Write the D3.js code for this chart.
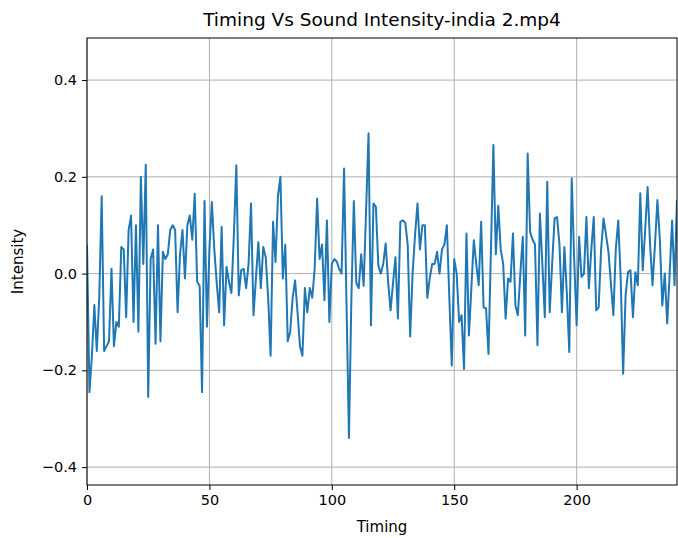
<!DOCTYPE html>
<html><head><meta charset="utf-8">
<script src="https://cdn.jsdelivr.net/npm/d3@7"></script>
<style>body{margin:0;background:#fff}svg{display:block;font-family:"DejaVu Sans",sans-serif}</style>
</head><body><svg id="c" width="678" height="538"></svg>
<script>
const title = "Timing Vs Sound Intensity-india 2.mp4";
const xLabel = "Timing";
const yLabel = "Intensity";
const xTicks = [0, 50, 100, 150, 200];
const yTicks = [-0.4, -0.2, 0.0, 0.2, 0.4];
const intensity = [
0.06,-0.245,-0.17,-0.065,-0.16,-0.05,0.16,-0.16,-0.15,-0.14,
0.01,-0.15,-0.1,-0.11,0.055,0.05,-0.09,0.09,0.12,-0.1,
0.1,-0.12,0.2,0.02,0.225,-0.255,0.03,0.05,-0.145,0.1,
-0.14,0.045,0.03,0.04,0.09,0.1,0.09,-0.08,0.04,0.09,
-0.01,0.1,0.12,0.07,0.165,-0.017,-0.025,-0.245,0.15,-0.11,
0.05,0.148,0.05,-0.02,-0.08,0.097,-0.107,0.014,-0.017,-0.04,
0.08,0.224,-0.045,0.007,0.01,-0.03,0.02,0.145,-0.086,-0.01,
0.065,-0.03,0.055,0.034,-0.05,-0.17,0.107,0.024,0.16,0.2,
-0.01,0.06,-0.14,-0.12,-0.05,-0.014,-0.08,-0.15,-0.17,-0.03,
-0.08,-0.03,-0.05,0.01,0.155,0.03,0.06,-0.055,0.11,-0.1,
0.02,0.03,0.025,0.01,0.0,0.217,-0.06,-0.34,-0.05,0.15,
-0.02,-0.03,0.04,-0.025,0.13,0.29,-0.107,0.145,0.138,0.017,
0.0,0.02,0.062,-0.017,-0.076,-0.02,0.034,-0.093,0.107,0.11,
0.105,0.06,-0.13,0.0,0.08,0.145,0.05,0.1,0.1,-0.05,
-0.01,0.02,0.02,0.045,0.0,0.05,0.06,0.1,-0.05,-0.19,
0.03,0.0,-0.1,-0.086,-0.197,0.083,-0.128,-0.03,0.069,0.02,
-0.024,0.107,-0.07,-0.072,-0.166,0.05,0.266,0.04,0.14,0.05,
0.02,-0.093,-0.01,-0.017,0.083,-0.066,-0.086,0.0,0.076,-0.128,
0.248,0.086,0.07,0.06,-0.148,0.124,0.02,-0.09,0.19,-0.08,
0.02,0.114,0.117,0.06,-0.08,0.055,-0.04,-0.162,0.197,0.03,
-0.107,0.076,-0.007,0.0,0.117,-0.03,0.05,0.117,-0.076,-0.07,
0.05,0.114,0.08,0.045,-0.02,-0.086,0.05,0.11,-0.01,-0.207,
-0.045,0.003,0.007,-0.09,0.003,-0.024,0.166,0.007,0.09,0.179,
0.06,-0.024,0.06,0.152,0.07,-0.066,0.0,-0.103,0.0,0.11,
-0.024,0.152
];
const timing = intensity.map((d, i) => i);

const svg = d3.select("#c");
const m = {l: 87, t: 38, r: 1, b: 53};
const W = 678, H = 538;
const x = d3.scaleLinear().domain([0, timing[timing.length - 1]]).range([m.l, W - m.r]);
const y = d3.scaleLinear().domain([-0.437, 0.487]).range([H - m.b, m.t]);

const fmt = d => d3.format(".1f")(d).replace("-", "\u2212");

svg.append("g").selectAll("line").data(xTicks).join("line")
  .attr("x1", d => x(d)).attr("x2", d => x(d)).attr("y1", m.t).attr("y2", H - m.b)
  .attr("stroke", "#b0b0b0").attr("stroke-width", 1);
svg.append("g").selectAll("line").data(yTicks).join("line")
  .attr("y1", d => y(d)).attr("y2", d => y(d)).attr("x1", m.l).attr("x2", W - m.r)
  .attr("stroke", "#b0b0b0").attr("stroke-width", 1);

svg.append("defs").append("clipPath").attr("id", "clip").append("rect")
  .attr("x", m.l).attr("y", m.t).attr("width", W - m.r - m.l).attr("height", H - m.b - m.t);
svg.append("path").datum(intensity)
  .attr("clip-path", "url(#clip)")
  .attr("d", d3.line().x((d, i) => x(timing[i])).y(d => y(d)))
  .attr("fill", "none").attr("stroke", "#1f77b4").attr("stroke-width", 2)
  .attr("stroke-linejoin", "round");

const xa = svg.append("g").attr("transform", `translate(0,${H - m.b})`)
  .call(d3.axisBottom(x).tickValues(xTicks).tickSize(5).tickPadding(5).tickFormat(d3.format("d")));
const ya = svg.append("g").attr("transform", `translate(${m.l},0)`)
  .call(d3.axisLeft(y).tickValues(yTicks).tickSize(5).tickPadding(5).tickFormat(fmt));
[xa, ya].forEach(g => {
  g.select(".domain").remove();
  g.selectAll("text").attr("font-size", 14.5).attr("fill", "#000").attr("font-family", "DejaVu Sans");
  g.selectAll("line").attr("stroke", "#000");
});
svg.append("rect").attr("x", m.l).attr("y", m.t).attr("width", W - m.r - m.l).attr("height", H - m.b - m.t)
  .attr("fill", "none").attr("stroke", "#000").attr("stroke-width", 1);

svg.append("text").attr("x", (m.l + W - m.r) / 2).attr("y", 26).attr("text-anchor", "middle")
  .attr("font-size", 18.5).text(title);
svg.append("text").attr("x", (m.l + W - m.r) / 2).attr("y", 532).attr("text-anchor", "middle")
  .attr("font-size", 15).text(xLabel);
svg.append("text").attr("transform", `translate(23,${(m.t + H - m.b) / 2}) rotate(-90)`)
  .attr("text-anchor", "middle").attr("font-size", 15).text(yLabel);
</script></body></html>
